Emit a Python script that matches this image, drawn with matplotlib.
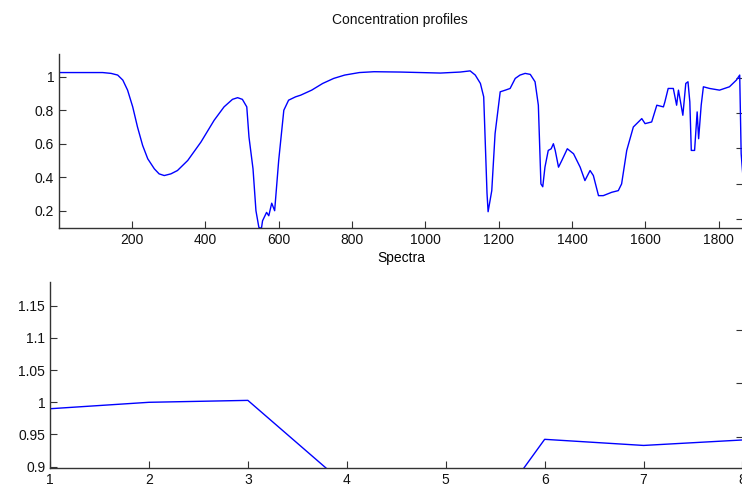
import numpy as np
import matplotlib
matplotlib.use("Agg")
import matplotlib.pyplot as plt

plt.rcParams['font.family'] = ['Liberation Sans', 'DejaVu Sans']
plt.rcParams['font.size'] = 10

# spectrum (channel index, value)
wave = [1, 60, 120, 143, 161, 175, 188, 202, 215, 229, 243, 261, 274, 288, 306,
        324, 352, 388, 424, 451, 474, 488, 501, 513, 519, 530, 538, 546, 553,
        556, 567, 573, 581, 589, 600, 614, 627, 646, 660, 690, 720, 750, 780,
        820, 860, 932, 1041, 1095, 1122, 1136, 1150, 1159, 1168,
        1171, 1181, 1190, 1204, 1218, 1231, 1245, 1258, 1272, 1286, 1299, 1308,
        1315, 1320, 1326, 1335, 1343, 1349, 1354, 1363, 1372, 1387, 1404, 1422,
        1435, 1449, 1458, 1472, 1485, 1508, 1526, 1535, 1549, 1567, 1590, 1599,
        1617, 1631, 1649, 1653, 1662, 1676, 1685, 1690, 1702, 1710, 1716, 1721,
        1725, 1734, 1741, 1745, 1752, 1758, 1775, 1802, 1829, 1848, 1857, 1861,
        1866]
absorb = [1.025, 1.025, 1.025, 1.02, 1.01, 0.98, 0.92, 0.82, 0.70, 0.59, 0.51,
          0.45, 0.42, 0.41, 0.42, 0.44, 0.50, 0.61, 0.74, 0.82, 0.865, 0.875,
          0.865, 0.82, 0.64, 0.45, 0.20, 0.10, 0.095,
          0.14, 0.19, 0.17, 0.245, 0.20, 0.50, 0.80, 0.86, 0.88, 0.89, 0.92,
          0.96, 0.99, 1.01, 1.025, 1.03, 1.028, 1.022, 1.028, 1.035, 1.01,
          0.96, 0.88, 0.305,
          0.194, 0.32, 0.66, 0.91, 0.92, 0.93, 0.99, 1.01, 1.02, 1.014, 0.97,
          0.83, 0.36, 0.343, 0.46, 0.56, 0.57, 0.60, 0.56, 0.46, 0.50, 0.57,
          0.54, 0.46, 0.38, 0.44, 0.41, 0.29, 0.29, 0.31, 0.32, 0.36, 0.56,
          0.70, 0.75, 0.72, 0.73, 0.83, 0.82, 0.85, 0.93, 0.93, 0.83, 0.92,
          0.77, 0.96, 0.97, 0.85, 0.56, 0.56, 0.79, 0.63, 0.83, 0.94, 0.93,
          0.92, 0.94, 0.98, 1.01, 0.54, 0.40]

# concentration profile, bottom panel
comp = [1, 2, 3, 4, 5, 6, 7, 8]
conc = [0.990, 1.000, 1.003, 0.87, 0.73, 0.9425, 0.933, 0.9415]

top_yticks = [0.2, 0.4, 0.6, 0.8, 1.0]
top_ylabels = ['0.2', '0.4', '0.6', '0.8', '1']
top_xticks = [200, 400, 600, 800, 1000, 1200, 1400, 1600, 1800]
top_right_ticks = [0.151, 0.3615, 0.572, 0.7825, 0.993]
bot_yticks = [0.9, 0.95, 1.0, 1.05, 1.1, 1.15]
bot_ylabels = ['0.9', '0.95', '1', '1.05', '1.1', '1.15']
bot_right_ticks = [0.9457, 1.0295, 1.1123]

grey = '#333333'


def style(ax):
    ax.spines['top'].set_visible(False)
    ax.spines['right'].set_visible(False)
    for s in ['left', 'bottom']:
        ax.spines[s].set_color(grey)
        ax.spines[s].set_linewidth(1.0)
    ax.tick_params(direction='in', length=5, width=0.8, color=grey,
                   labelcolor='#111111', right=False)


def right_ticks(ax, ticks):
    # the right-hand ticks sit on a different scale in the original
    sec = ax.secondary_yaxis('right')
    sec.set_yticks(ticks)
    sec.set_yticklabels([])
    sec.spines['right'].set_visible(False)
    sec.tick_params(direction='in', length=5, width=0.8, color=grey)


fig = plt.figure(figsize=(7.42, 4.88), dpi=100)

ax1 = fig.add_axes([59 / 742, 1 - 228.3 / 488, 684 / 742, 174 / 488])
ax1.plot(wave, absorb, color='#0000ff', lw=1.0)
ax1.set_xlim(1, 1866)
ax1.set_ylim(0.095, 1.134)
ax1.set_xticks(top_xticks)
ax1.set_yticks(top_yticks)
ax1.set_yticklabels(top_ylabels)
style(ax1)
right_ticks(ax1, top_right_ticks)
ax1.set_xlabel('Spectra', labelpad=3)
fig.text(400 / 742, 1 - 20 / 488, 'Concentration profiles', ha='center',
         va='center', color='#111111')

ax2 = fig.add_axes([50 / 742, 1 - 468.3 / 488, 692.5 / 742, 186.6 / 488])
ax2.plot(comp, conc, color='#0000ff', lw=1.0)
ax2.set_xlim(1, 8)
ax2.set_ylim(0.8975, 1.1873)
ax2.set_xticks(comp)
ax2.set_yticks(bot_yticks)
ax2.set_yticklabels(bot_ylabels)
style(ax2)
right_ticks(ax2, bot_right_ticks)

fig.savefig('out.png', dpi=100)
